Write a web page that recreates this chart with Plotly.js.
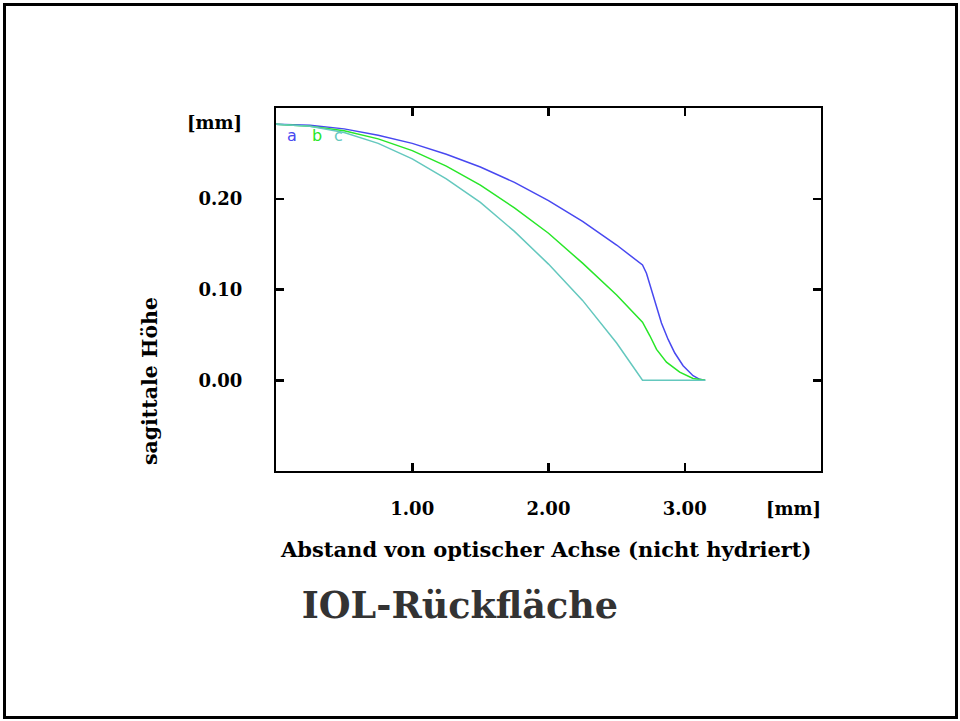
<!DOCTYPE html>
<html>
<head>
<meta charset="utf-8">
<script src="https://cdn.plot.ly/plotly-3.0.1.min.js"></script>
<style>
  html, body { margin: 0; padding: 0; background: #fff; }
  #chart { width: 960px; height: 721px; position: absolute; left: 0; top: 0; }
  #frame { position: absolute; left: 3px; top: 3px; width: 955px; height: 716px; box-sizing: border-box; border: 3px solid #000; pointer-events: none; }
</style>
</head>
<body>
<div id="chart"></div>
<div id="frame"></div>
<script>
// ---- data ----
const seriesNames = ['a', 'b', 'c'];

const xA = [0, 0.25, 0.5, 0.75, 1.0, 1.25, 1.5, 1.75, 2.0, 2.25, 2.5, 2.69, 2.719, 2.756, 2.793, 2.829, 2.878, 2.927, 2.988, 3.061, 3.110, 3.150];
const yA = [0.282, 0.281, 0.277, 0.270, 0.261, 0.249, 0.235, 0.218, 0.198, 0.175, 0.149, 0.127, 0.118, 0.100, 0.082, 0.063, 0.045, 0.030, 0.016, 0.005, 0.001, 0.000];

const xB = [0, 0.25, 0.5, 0.75, 1.0, 1.25, 1.5, 1.75, 2.0, 2.25, 2.5, 2.69, 2.744, 2.793, 2.866, 2.963, 3.061, 3.134, 3.150];
const yB = [0.282, 0.280, 0.275, 0.266, 0.253, 0.236, 0.215, 0.190, 0.162, 0.129, 0.094, 0.064, 0.049, 0.034, 0.020, 0.009, 0.002, 0.000, 0.000];

const xC = [0, 0.25, 0.5, 0.75, 1.0, 1.25, 1.5, 1.75, 2.0, 2.25, 2.5, 2.69, 3.150];
const yC = [0.282, 0.280, 0.273, 0.261, 0.244, 0.222, 0.196, 0.164, 0.128, 0.088, 0.041, 0.000, 0.000];

const xTickVals = [1, 2, 3];
const xTickText = ['1.00', '2.00', '3.00'];
const yTickVals = [0, 0.1, 0.2];
const yTickText = ['0.00', '0.10', '0.20'];

// label positions for the a/b/c markers (data units)
const labelX = [0.12, 0.30, 0.457];
const labelY = [0.27, 0.27, 0.27];

// ---- styling ----
const colors = ['rgb(72,72,240)', 'rgb(40,230,40)', 'rgb(100,200,190)'];
const serif = 'DejaVu Serif';

const traces = [
  {x: xA, y: yA, name: seriesNames[0], mode: 'lines', line: {color: colors[0], width: 1.5}},
  {x: xB, y: yB, name: seriesNames[1], mode: 'lines', line: {color: colors[1], width: 1.5}},
  {x: xC, y: yC, name: seriesNames[2], mode: 'lines', line: {color: colors[2], width: 1.5}}
];

const axisCommon = {
  showgrid: false, zeroline: false, showline: true, mirror: 'ticks',
  linecolor: '#000', linewidth: 2, ticks: 'inside', ticklen: 8, tickwidth: 2.5, tickcolor: '#000',
  tickfont: {family: serif, size: 18, color: '#000', weight: 'bold'}
};

const annotations = seriesNames.map((n, i) => ({
  x: labelX[i], y: labelY[i], xref: 'x', yref: 'y', text: n, showarrow: false,
  font: {family: 'DejaVu Sans', size: 16, color: colors[i]}, xanchor: 'center', yanchor: 'middle'
}));

annotations.push(
  {x: -0.0585, y: 0.959, xref: 'paper', yref: 'paper', text: '[mm]', showarrow: false, xanchor: 'right', yanchor: 'middle',
   font: {family: serif, size: 18, color: '#000', weight: 'bold'}},
  {x: 1.004, y: -0.102, xref: 'paper', yref: 'paper', text: '[mm]', showarrow: false, xanchor: 'right', yanchor: 'middle',
   font: {family: serif, size: 18, color: '#000', weight: 'bold'}},
  {x: -0.231, y: 0.248, xref: 'paper', yref: 'paper', text: 'sagittale Höhe', textangle: -90, showarrow: false,
   xanchor: 'center', yanchor: 'middle', font: {family: serif, size: 20.5, color: '#000', weight: 'bold'}},
  {x: 0.496, y: -0.215, xref: 'paper', yref: 'paper', text: 'Abstand von optischer Achse (nicht hydriert)', showarrow: false,
   xanchor: 'center', yanchor: 'middle', font: {family: serif, size: 21, color: '#000', weight: 'bold'}}
);

const layout = {
  width: 960, height: 721,
  margin: {l: 276, r: 139, t: 108, b: 250},
  paper_bgcolor: '#fff', plot_bgcolor: '#fff',
  showlegend: false,
  title: {
    text: 'IOL-Rückfläche', xref: 'container', yref: 'container', x: 0.479, y: 0.161,
    xanchor: 'center', yanchor: 'middle',
    font: {family: serif, size: 36.5, color: '#333', weight: 'bold'}
  },
  xaxis: Object.assign({}, axisCommon, {range: [0, 4], tickvals: xTickVals, ticktext: xTickText, ticklabelstandoff: 20}),
  yaxis: Object.assign({}, axisCommon, {range: [-0.1, 0.3], tickvals: yTickVals, ticktext: yTickText, ticklabelstandoff: 28}),
  annotations: annotations
};

Plotly.newPlot('chart', traces, layout, {displayModeBar: false, staticPlot: true});
</script>
</body>
</html>
